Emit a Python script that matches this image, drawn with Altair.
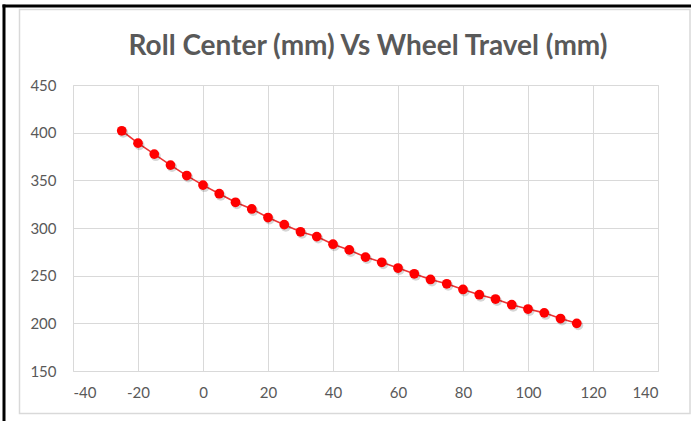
import altair as alt
import pandas as pd

# Suspension kinematics: roll-centre height against wheel travel
wheel_travel = [-25, -20, -15, -10, -5, 0, 5, 10, 15, 20, 25, 30, 35, 40, 45,
                50, 55, 60, 65, 70, 75, 80, 85, 90, 95, 100, 105, 110, 115]
roll_center = [402, 389, 377.5, 366, 355, 345, 336, 327, 320, 311, 303.5, 296,
               291, 283, 277, 269.5, 264, 258, 252, 246, 241.5, 235.5, 230,
               225.5, 219.5, 215, 211, 205, 200]

x_ticks = [-40, -20, 0, 20, 40, 60, 80, 100, 120, 140]
y_ticks = [150, 200, 250, 300, 350, 400, 450]
title_text = "Roll Center (mm) Vs Wheel Travel (mm)"

df = pd.DataFrame({"travel": wheel_travel, "rc": roll_center})

FONT = "Lato"
TEXT = "#595959"
GRID = "#d9d9d9"
RED = "#ff0000"

W, H = 585, 286
PAD_L, PAD_T = 73, 85

# plain hyphen for negative tick labels
hyphen_labels = "datum.value < 0 ? '-' + abs(datum.value) : '' + datum.value"

x_enc = alt.X("travel:Q",
              scale=alt.Scale(domain=[-40, 140], nice=False, zero=False),
              axis=alt.Axis(values=x_ticks, title=None, grid=True,
                            gridColor=GRID, domain=False, ticks=False,
                            labelExpr=hyphen_labels,
                            labelPadding=14, labelFont=FONT, labelFontSize=15,
                            labelColor=TEXT))
y_enc = alt.Y("rc:Q",
              scale=alt.Scale(domain=[150, 450], nice=False, zero=False),
              axis=alt.Axis(values=y_ticks, title=None, grid=True,
                            gridColor=GRID, domain=False, ticks=False,
                            labelPadding=17, labelFont=FONT, labelFontSize=15,
                            labelColor=TEXT))

base = alt.Chart(df).encode(x=x_enc, y=y_enc)

line = base.mark_line(color="#ec3434", strokeWidth=1.6)
shadow = base.mark_circle(size=100, color="black", opacity=0.16,
                          xOffset=1.5, yOffset=2)
points = base.mark_circle(size=95, color=RED, opacity=1)

one = alt.Data(values=[{"k": 1}])

# chart frame and the dark edge along the top and left
frame = alt.Chart(one).mark_rect(fill=None, stroke=GRID, strokeWidth=1.5).encode(
    x=alt.value(19.5 - PAD_L), x2=alt.value(690 - PAD_L),
    y=alt.value(9.5 - PAD_T), y2=alt.value(413.5 - PAD_T))
edge_left = alt.Chart(one).mark_rule(color="black", strokeWidth=3).encode(
    x=alt.value(4 - PAD_L), y=alt.value(4.5 - PAD_T), y2=alt.value(421 - PAD_T))
edge_top = alt.Chart(one).mark_rule(color="black", strokeWidth=3).encode(
    x=alt.value(2.5 - PAD_L), x2=alt.value(691 - PAD_L), y=alt.value(6 - PAD_T))

# chart heading
heading = alt.Chart(one).mark_text(
    text=title_text, font=FONT, fontSize=28, fontWeight="bold", color=TEXT,
    align="center", baseline="alphabetic").encode(
    x=alt.value(368 - PAD_L), y=alt.value(55 - PAD_T))

chart = alt.layer(frame, edge_left, edge_top, heading, line, shadow, points).properties(
    width=W, height=H,
    autosize=alt.AutoSizeParams(type="none"),
    padding={"left": PAD_L, "top": PAD_T, "right": 691 - PAD_L - W,
             "bottom": 421 - PAD_T - H},
).configure_view(stroke=None).configure(background="white")

chart.save("out.html", embed_options={"renderer": "svg", "actions": False})
